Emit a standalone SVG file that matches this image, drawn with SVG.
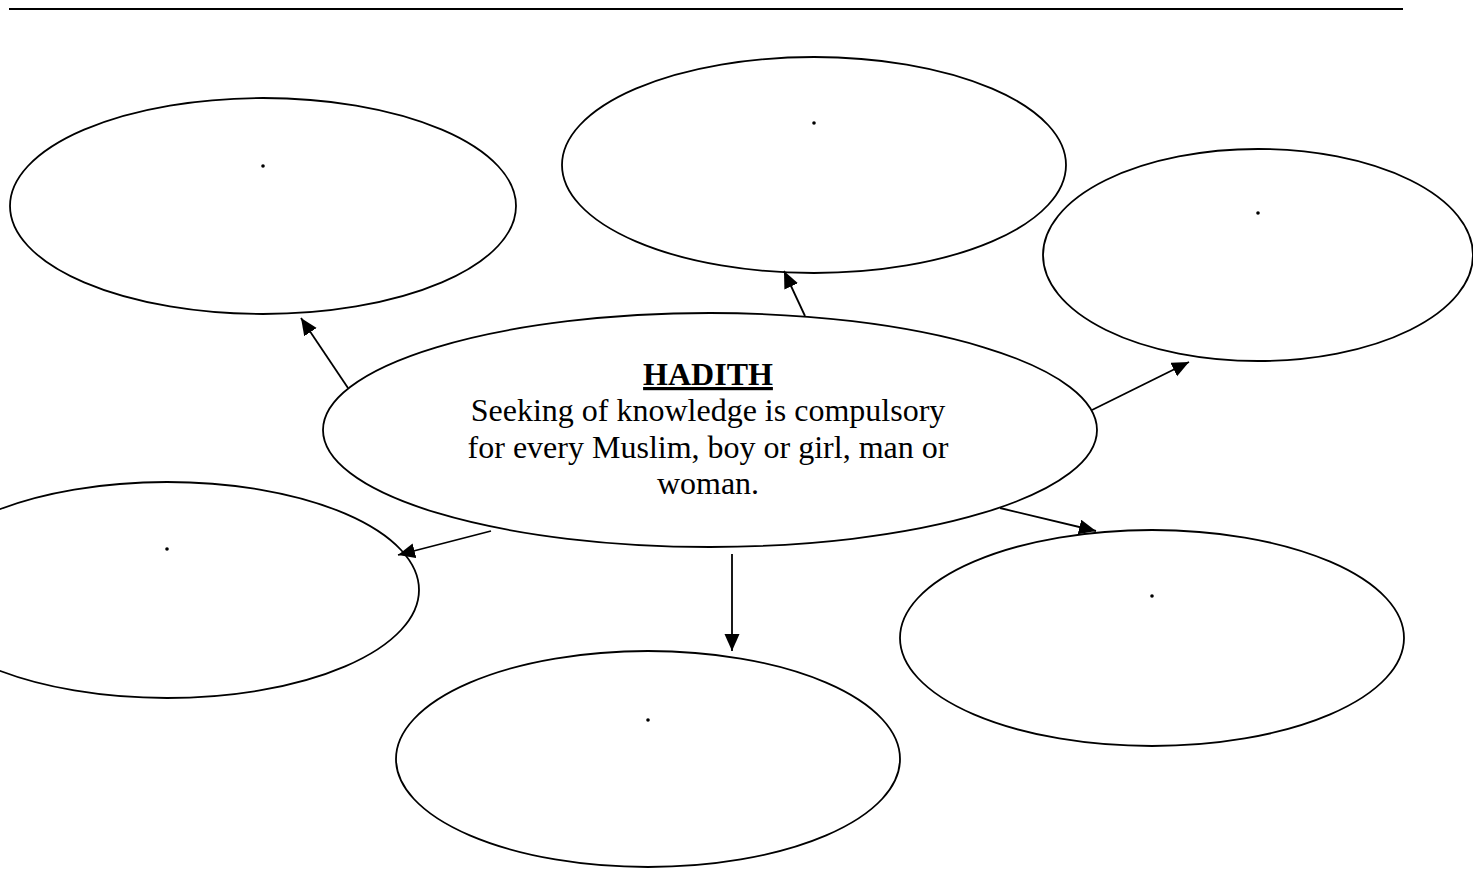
<svg xmlns="http://www.w3.org/2000/svg" width="1473" height="869" viewBox="0 0 1473 869">
<style>
.n{fill:none;stroke:#000;stroke-width:1.8}
.c{stroke:#000;stroke-width:1.8;fill:none;marker-end:url(#ah)}
.d{fill:#000}
.t{font-family:"Liberation Serif","Times New Roman",serif;font-size:32px;fill:#000;text-anchor:middle}
.h{font-weight:bold;text-decoration:underline}
</style>
<defs>
<marker id="ah" markerUnits="userSpaceOnUse" markerWidth="20" markerHeight="18" refX="17" refY="7.5" orient="auto">
<path d="M0,0 L17,7.5 L0,15 Z" fill="#000"/>
</marker>
</defs>
<rect width="1473" height="869" fill="#fff"/>
<line x1="9" y1="9" x2="1403" y2="9" stroke="#000" stroke-width="2.2"/>
<g id="connectors">
<line class="c" x1="348" y1="388" x2="301" y2="318"/>
<line class="c" x1="805" y1="316" x2="784" y2="271"/>
<line class="c" x1="1092" y1="410" x2="1189" y2="362"/>
<line class="c" x1="1000" y1="508" x2="1096" y2="531"/>
<line class="c" x1="732" y1="554" x2="732" y2="651"/>
<line class="c" x1="491" y1="531" x2="398" y2="555"/>
</g>
<g id="n1"><ellipse class="n" cx="263" cy="206" rx="253" ry="108"/><circle class="d" cx="263" cy="166" r="1.8"/></g>
<g id="n2"><ellipse class="n" cx="814" cy="165" rx="252" ry="108"/><circle class="d" cx="814" cy="123" r="1.8"/></g>
<g id="n3"><ellipse class="n" cx="1258" cy="255" rx="215" ry="106"/><circle class="d" cx="1258" cy="213" r="1.8"/></g>
<g id="n5"><ellipse class="n" cx="167" cy="590" rx="252" ry="108"/><circle class="d" cx="167" cy="549" r="1.8"/></g>
<g id="n6"><ellipse class="n" cx="648" cy="759" rx="252" ry="108"/><circle class="d" cx="648" cy="720" r="1.8"/></g>
<g id="n7"><ellipse class="n" cx="1152" cy="638" rx="252" ry="108"/><circle class="d" cx="1152" cy="596" r="1.8"/></g>
<g id="center">
<ellipse class="n" cx="710" cy="430" rx="387" ry="117" fill="#fff"/>
<text class="t h" x="708" y="385">HADITH</text>
<text class="t" x="708" y="421">Seeking of knowledge is compulsory</text>
<text class="t" x="708" y="458">for every Muslim, boy or girl, man or</text>
<text class="t" x="708" y="494">woman.</text>
</g>
</svg>
